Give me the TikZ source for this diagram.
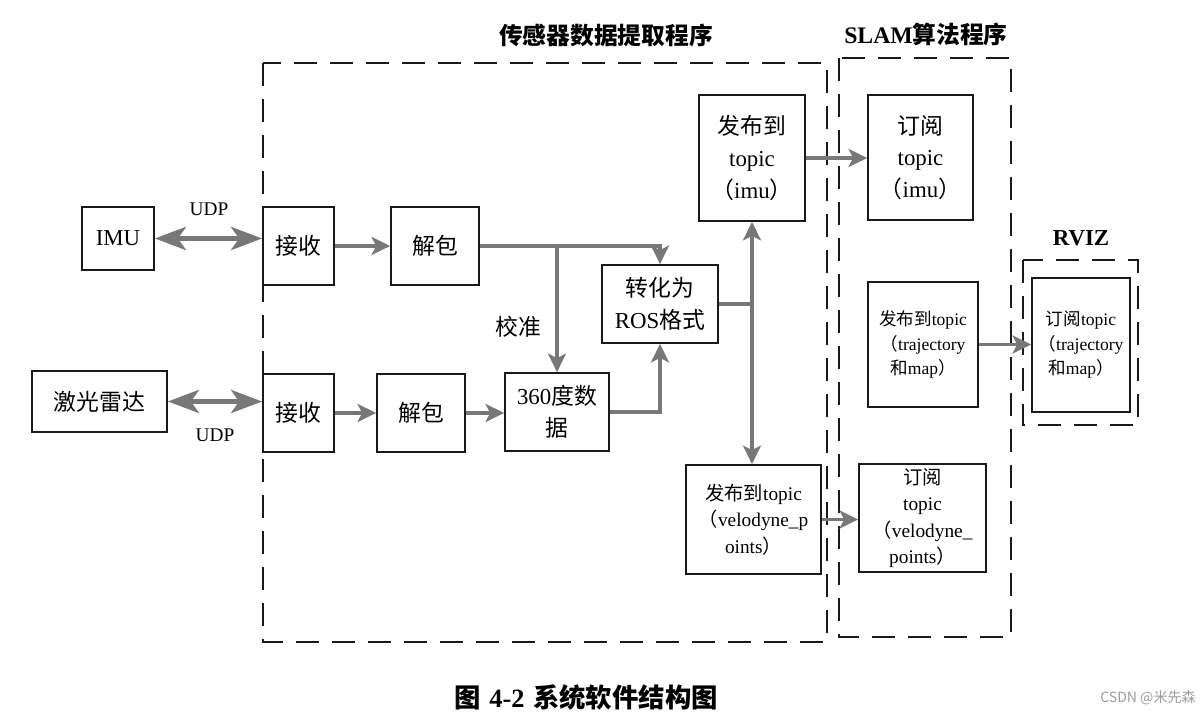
\documentclass[tikz,border=0pt]{standalone}
\usepackage{fontspec}
\setmainfont{Liberation Serif}
\newfontfamily\cjk{Noto Sans CJK SC}
\usetikzlibrary{arrows.meta,positioning,calc}
\definecolor{Ink}{HTML}{1A1A1A}
\definecolor{Pipe}{HTML}{787878}
\definecolor{Mark}{HTML}{9C9C9C}
\tikzset{
  box/.style={draw=Ink,line width=1pt,align=center,inner sep=0pt,font=\fontsize{13}{18}\selectfont},
  smallbox/.style={box,font=\fontsize{11}{15}\selectfont},
  tinybox/.style={box,font=\fontsize{10}{14}\selectfont},
  group/.style={draw=Ink,line width=.8pt,dash pattern=on .46cm off .26cm},
  title/.style={font=\fontsize{13.5}{16}\selectfont\bfseries},
  label/.style={font=\fontsize{11}{13}\selectfont},
  link/.style={draw=Pipe,line width=2pt},
  flow/.style={link,-{Stealth[length=3.7mm,width=3.6mm,inset=.9mm]}},
  biflow/.style={link,{Stealth[length=3.7mm,width=3.6mm,inset=.9mm]}-{Stealth[length=3.7mm,width=3.6mm,inset=.9mm]}},
  duplex/.style={draw=Pipe,line width=3pt,{Stealth[length=6.2mm,width=4.6mm,inset=1.6mm]}-{Stealth[length=6.2mm,width=4.6mm,inset=1.6mm]}}
}
\begin{document}
\begin{tikzpicture}
        \useasboundingbox (0,0) rectangle (24.06,14.38);
        \node[title] (sensortitle) at (12.12,13.68) {\cjk 传感器数据提取程序};
        \node[title] (slamtitle) at (18.52,13.70) {SLAM{\cjk 算法程序}};
        \node[title,font=\fontsize{13}{16}\selectfont\bfseries] (rviztitle) at (21.62,9.62) {RVIZ};
        \draw[group] (5.26,13.12) rectangle (16.54,1.54);
        \draw[group] (16.78,13.22) rectangle (20.22,1.64);
        \draw[group] (20.46,9.18) rectangle (22.76,5.88);

        \node[box,minimum width=1.44cm,minimum height=1.26cm] (imu) at (2.36,9.61) {IMU};
        \node[box,minimum width=2.70cm,minimum height=1.22cm] (lidar) at (1.99,6.35) {\cjk 激光雷达};
        \node[box,minimum width=1.42cm,minimum height=1.56cm] (recvimu) at (5.97,9.46) {\cjk 接收};
        \node[box,minimum width=1.76cm,minimum height=1.56cm] (unpackimu) at (8.70,9.46) {\cjk 解包};
        \node[box,minimum width=1.42cm,minimum height=1.56cm] (recvlidar) at (5.97,6.12) {\cjk 接收};
        \node[box,minimum width=1.76cm,minimum height=1.56cm] (unpacklidar) at (8.42,6.12) {\cjk 解包};
        \node[box,minimum width=2.08cm,minimum height=1.56cm] (scan) at (11.14,6.14) {360{\cjk 度数}\\{\cjk 据}};
        \node[box,minimum width=2.32cm,minimum height=1.56cm] (rosfmt) at (13.20,8.30) {{\cjk 转化为}\\ROS{\cjk 格式}};
        \node[box,minimum width=2.12cm,minimum height=2.52cm] (pubimu) at (15.04,11.22) {{\cjk 发布到}\\topic\\{\cjk （}imu{\cjk ）}};
        \node[smallbox,minimum width=2.70cm,minimum height=2.18cm] (pubvelo) at (15.07,3.99) {{\cjk 发布到}topic\\{\cjk （}velodyne\_p\\oints{\cjk ）}};
        \node[box,minimum width=2.10cm,minimum height=2.50cm] (subimu) at (18.41,11.23) {{\cjk 订阅}\\topic\\{\cjk （}imu{\cjk ）}};
        \node[tinybox,minimum width=2.20cm,minimum height=2.50cm] (pubtraj) at (18.46,7.49) {{\cjk 发布到}topic\\{\cjk （}trajectory\\{\cjk 和}map{\cjk ）}};
        \node[smallbox,minimum width=2.54cm,minimum height=2.16cm] (subvelo) at (18.45,4.02) {{\cjk 订阅}\\topic\\{\cjk （}velodyne\_\\points{\cjk ）}};
        \node[tinybox,minimum width=1.96cm,minimum height=2.68cm] (subtraj) at (21.62,7.48) {{\cjk 订阅}topic\\{\cjk （}trajectory\\{\cjk 和}map{\cjk ）}};

        \node[label] (udpimu) at (4.18,10.20) {UDP};
        \node[label] (udplidar) at (4.30,5.68) {UDP};
        \node[font=\fontsize{13}{15}\selectfont] (calib) at (10.36,7.84) {\cjk 校准};

        \draw[duplex] (imu.east) -- (imu.east -| recvimu.west);
        \draw[duplex] (lidar.east) -- (lidar.east -| recvlidar.west);
        \draw[flow] (recvimu) -- (unpackimu);
        \draw[flow] (recvlidar) -- (unpacklidar);
        \draw[flow] (unpacklidar.east) -- (unpacklidar.east -| scan.west);
        \draw[flow] (unpackimu.east) -| (rosfmt.north);
        \coordinate (split) at (unpackimu.east -| scan.north);
        \draw[flow] (split) -- (scan.north);
        \draw[flow] (scan.east) -| (rosfmt.south);
        \coordinate (bus) at (rosfmt.east -| pubimu.south);
        \draw[link] (rosfmt.east) -- (bus);
        \draw[biflow] (pubimu.south) -- (pubimu.south |- pubvelo.north);
        \draw[flow] (pubimu.east) -- (pubimu.east -| subimu.west);
        \draw[flow] (pubvelo.east) -- (pubvelo.east -| subvelo.west);
        \draw[flow] (pubtraj.east) -- (pubtraj.east -| subtraj.west);

        \node[font=\fontsize{15}{17}\selectfont\bfseries] (caption) at (11.72,0.44) {{\cjk 图}\hspace{5pt}4-2\hspace{5pt}{\cjk 系统软件结构图}};
        \node[font=\fontsize{8}{10}\selectfont\cjk,text=Mark] (mark) at (22.96,0.42) {CSDN @米先森};
      \end{tikzpicture}
\end{document}
